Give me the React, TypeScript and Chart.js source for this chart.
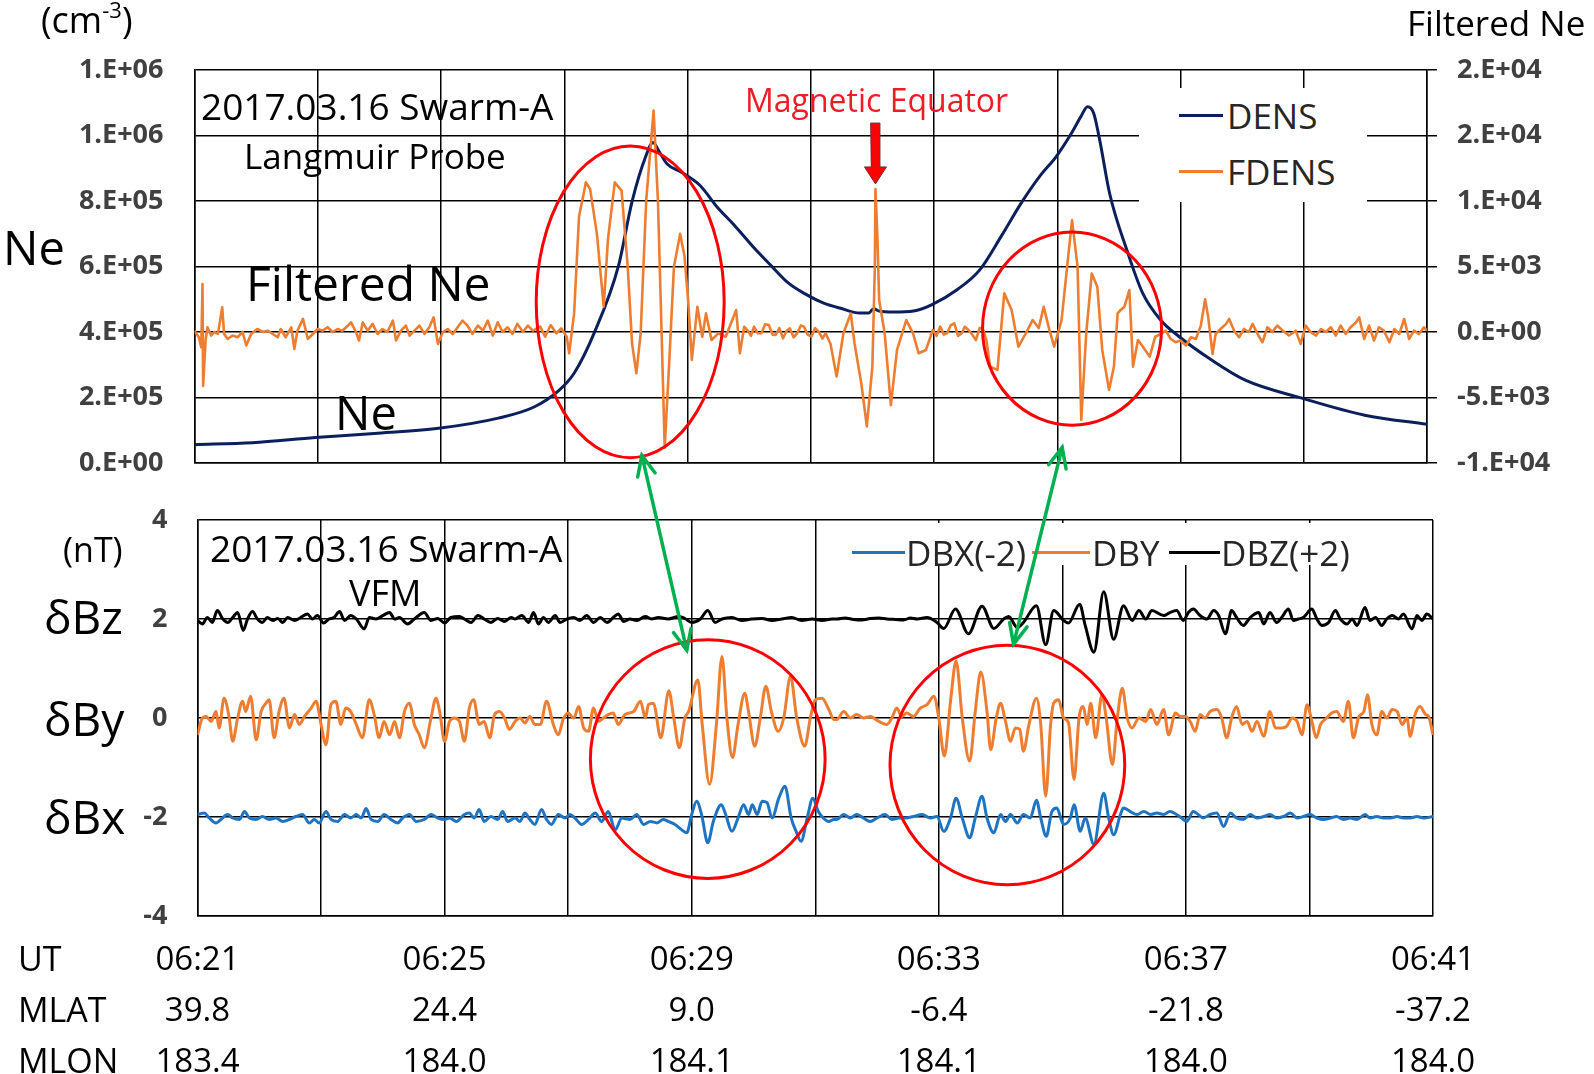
import React, { useEffect, useRef } from 'react';
import { Chart, registerables } from 'chart.js';
Chart.register(...registerables);

// ---------- DATA (time in minutes after 06:21 UT) ----------
const densT = [0, 0.94, 1.96, 2.92, 3.96, 4.93, 5.51, 5.91, 6.16, 6.49, 6.88, 7.10, 7.32, 7.44, 7.54, 7.67, 7.90, 8.20, 8.48, 8.76, 9.06, 9.36, 9.64, 9.93, 10.21, 10.51, 10.79, 10.94, 11.02, 11.11, 11.34, 11.67, 11.96, 12.38, 12.74, 13.09, 13.43, 13.73, 13.98, 14.24, 14.39, 14.49, 14.59, 14.69, 14.85, 15.13, 15.39, 15.68, 15.97, 16.50, 17.06, 17.97, 18.99, 20.0];
const densV = [56000, 62000, 78000, 90000, 106000, 137000, 171000, 221000, 274000, 399000, 602000, 798000, 935000, 979000, 951000, 913000, 888000, 848000, 782000, 726000, 661000, 602000, 549000, 514000, 488000, 471000, 458000, 458000, 471000, 464000, 461000, 464000, 483000, 530000, 589000, 692000, 798000, 879000, 935000, 1010000, 1060000, 1088000, 1069000, 985000, 823000, 650000, 517000, 436000, 387000, 315000, 252000, 198000, 146000, 118000];

const fdensT = [
  0.00, 0.07, 0.11, 0.13, 0.14, 0.18, 0.21, 0.27, 0.32, 0.38, 0.45, 0.48, 0.54, 0.62, 0.70, 0.78, 0.84, 0.92, 1.02, 1.11, 1.19, 1.27, 1.35, 1.40, 1.48, 1.57, 1.62, 1.67, 1.76, 1.84, 1.92, 2.00, 2.08, 2.16, 2.24, 2.32, 2.40, 2.49, 2.54, 2.62, 2.67, 2.73, 2.81, 2.89, 2.97, 3.05, 3.13, 3.22, 3.27, 3.35, 3.43, 3.49, 3.57, 3.65, 3.73, 3.81, 3.88, 3.95, 4.03, 4.11, 4.19, 4.27, 4.35, 4.43, 4.51, 4.60, 4.68, 4.76, 4.84, 4.92, 5.00, 5.08, 5.16, 5.24, 5.33, 5.41, 5.49,
  5.61, 5.69, 5.78, 5.87, 5.95, 6.04, 6.08, 6.16, 6.24, 6.30, 6.35, 6.42, 6.53, 6.64, 6.71, 6.82, 6.93, 7.03, 7.10, 7.17, 7.24, 7.33, 7.45, 7.52, 7.58, 7.63, 7.70, 7.78, 7.88, 7.95, 8.01, 8.07, 8.16, 8.24, 8.30, 8.39, 8.50, 8.62, 8.79, 8.85, 8.92, 8.97, 9.03, 9.08, 9.14, 9.20, 9.26, 9.32, 9.38, 9.43, 9.49, 9.55, 9.61, 9.66, 9.72, 9.78, 9.84, 9.89, 9.95, 10.01, 10.07, 10.13, 10.19, 10.24, 10.32, 10.42, 10.53, 10.65, 10.71, 10.82, 10.91, 11.00, 11.04, 11.05, 11.08, 11.11, 11.20, 11.30, 11.40, 11.55, 11.66, 11.75, 11.87, 11.98, 12.04, 12.10, 12.16, 12.21, 12.27, 12.33, 12.39, 12.45, 12.50, 12.56, 12.62, 12.68, 12.74, 12.79, 12.85, 12.91, 13.03, 13.14, 13.26, 13.37, 13.49, 13.60, 13.70, 13.78, 13.87, 13.95, 14.07, 14.16, 14.24, 14.33, 14.39, 14.47, 14.56,
  14.65, 14.73, 14.84, 14.92, 14.98, 15.03, 15.09, 15.17, 15.23, 15.31, 15.39, 15.50, 15.59,
  15.68, 15.76, 15.84, 15.92, 16.00, 16.09, 16.17, 16.25, 16.33, 16.40, 16.45, 16.52, 16.57, 16.65, 16.74, 16.79, 16.87, 16.95, 17.03, 17.11, 17.17, 17.25, 17.33, 17.41, 17.49, 17.57, 17.66, 17.76, 17.87, 17.95, 18.03, 18.11, 18.20, 18.28, 18.36, 18.44, 18.52, 18.60, 18.68, 18.76, 18.85, 18.90, 18.98, 19.06, 19.14, 19.22, 19.30, 19.39, 19.47, 19.55, 19.63, 19.71, 19.79, 19.87, 19.95, 20.00,
];
const fdensV = [
  100, -400, -1170, 3660, -4110, -650, 360, -270, 0, -150, 1880, -150, -530, -270, -400, 0, -1030, -150, 230, 0, 100, -150, -400, 230, -400, 360, -1300, 100, 1000, -530, -150, 230, 100, 360, 0, 230, 100, 490, 740, 0, -650, 740, 100, 620, -150, 230, 0, 870, -650, 100, 490, -270, 100, 490, -150, 360, 1120, -910, 0, 230, -150, 360, 870, 490, -150, 490, 100, 870, -270, 740, 0, 360, -150, 620, 0, 490, 100,
  410, -360, 530, -100, 280, -360, -1620, 1420, 8830, 10200, 11420, 10910, 7490, 1930, 7110, 11420, 10790, 4970, -860, -3150, -100, 10050, 16900, 10050, -100, -8830, -2640, 4970, 7490, 5840, 2440, -2130, 1930, -360, 1420, -610, -100, -360, 1680, -1620, 400, 150, -300, 410, -100, -100, 600, 530, -200, -230, 300, -480, 100, 280, -400, -100, 500, 410, -200, -360, 300, 30, -500, -100, -900, -3400, -100, 1420, -860, -3910, -7210, -2640, 4970, 10910, 7490, 2440, -100, -5580, -1370, 910, -100, -1620, -1370, 150, -300, 410, -200, -100, 500, 660, -300, -100, 400, 150, -200, -610, 300, 280, -600, -2640, -2890, 2950, 1680, -1120, -100, 910, 300, 1930, 200, -1120, 910, 4970, 8530, 4970, -6720, -100, 4470,
  3450, -1370, -4420, -2640, 1420, 1680, 1930, 3200, -2640, -610, -1120, -1880, -360,
  -150, 100, -530, -780, -650, -1030, -400, -530, 490, 2500, 1120, -1680, -150, 230, 620, 1000, 100, -400, 230, 0, 620, -150, -780, 360, 0, 490, 100, -270, 100, -910, 490, 0, -270, 230, 0, 360, -270, 490, -150, 360, 740, 1120, -530, 490, -650, 360, 100, -780, 230, -150, 990, -530, 100, -150, 360, 100,
];

const dbzT = [
  0, 0.08, 0.16, 0.24, 0.32, 0.41, 0.49, 0.57, 0.65, 0.74, 0.81, 0.89, 0.97, 1.05, 1.13, 1.22, 1.30, 1.38, 1.46, 1.57, 1.67, 1.78, 1.86, 1.94, 2.04, 2.13, 2.21, 2.30, 2.38, 2.48, 2.57, 2.70, 2.78, 2.89, 3.00, 3.11, 3.19, 3.27, 3.40, 3.51, 3.67, 3.78, 3.89, 4.00, 4.10, 4.24, 4.32, 4.43, 4.54, 4.64, 4.75, 4.86, 4.97, 5.08,
  5.14, 5.25, 5.36, 5.44, 5.52, 5.60, 5.68, 5.79, 5.87, 5.98, 6.09, 6.19, 6.30, 6.41, 6.52, 6.63, 6.73, 6.81, 6.90, 7.00, 7.11, 7.25, 7.35, 7.46, 7.62, 7.79, 7.89, 8.00, 8.14, 8.26, 8.38, 8.49, 8.65, 8.81, 8.97, 9.14, 9.30, 9.46, 9.62, 9.78, 9.95, 10.11, 10.27,
  10.35, 10.48, 10.62, 10.75, 10.89, 11.03, 11.16, 11.30, 11.43, 11.54, 11.65, 11.81, 11.97, 12.08, 12.27, 12.48, 12.70, 12.89, 13.05, 13.13, 13.27, 13.37, 13.58, 13.73, 13.86, 14.02, 14.10, 14.28, 14.37, 14.51, 14.67, 14.83, 14.99, 15.13, 15.24, 15.35, 15.45,
  15.64, 15.74, 15.85, 15.96, 16.04, 16.12, 16.23, 16.34, 16.45, 16.53, 16.64, 16.74, 16.82, 16.93, 17.04, 17.18, 17.26, 17.36, 17.47, 17.55, 17.66, 17.74, 17.82, 17.90, 18.04, 18.12, 18.20, 18.31, 18.42, 18.50, 18.61, 18.69, 18.77, 18.90, 18.98, 19.07, 19.17, 19.25, 19.34, 19.44, 19.52, 19.66, 19.74, 19.82, 19.90, 20.00,
];
const dbzV = [
  1.97, 1.90, 2.03, 1.93, 2.17, 2.00, 1.93, 2.03, 2.13, 1.77, 2.00, 2.15, 2.00, 1.93, 2.03, 1.97, 2.01, 1.93, 2.03, 1.97, 2.03, 2.10, 2.00, 2.07, 1.92, 2.00, 2.03, 2.15, 1.97, 2.07, 2.00, 1.80, 2.03, 2.00, 2.07, 2.13, 2.00, 2.03, 1.90, 2.00, 2.13, 1.97, 2.01, 1.92, 2.03, 2.05, 2.00, 1.93, 2.07, 2.00, 1.93, 2.01, 1.95, 2.03,
  2.00, 2.07, 1.93, 2.13, 1.90, 2.03, 1.93, 2.07, 1.93, 2.00, 2.03, 1.97, 2.07, 1.93, 2.03, 1.93, 2.03, 2.10, 1.95, 2.00, 1.97, 2.05, 2.00, 2.03, 2.00, 2.05, 2.01, 1.93, 2.00, 2.17, 1.93, 2.00, 2.03, 1.97, 2.00, 2.01, 1.97, 2.00, 2.03, 1.97, 2.00, 1.97, 2.00,
  2.00, 2.02, 1.99, 1.98, 2.01, 2.02, 2.00, 1.99, 1.98, 2.02, 2.00, 2.03, 1.93, 1.81, 2.20, 1.70, 2.26, 1.81, 2.00, 2.05, 1.83, 1.93, 2.27, 1.48, 2.17, 1.97, 1.92, 2.30, 1.87, 1.33, 2.55, 1.59, 2.27, 1.97, 2.17, 2.00, 2.17,
  2.07, 2.13, 2.17, 1.97, 2.13, 2.20, 2.07, 2.00, 2.17, 2.07, 1.70, 2.17, 2.03, 1.87, 2.03, 2.13, 1.90, 2.13, 1.93, 2.03, 2.20, 1.97, 2.00, 2.03, 2.20, 2.00, 1.87, 1.93, 2.17, 2.00, 1.90, 2.00, 1.87, 2.23, 1.97, 2.03, 1.87, 2.00, 2.07, 2.00, 2.10, 1.80, 2.07, 1.97, 2.10, 2.00,
];

const dbyT = [
  0, 0.08, 0.14, 0.22, 0.30, 0.35, 0.43, 0.51, 0.57, 0.65, 0.73, 0.78, 0.86, 0.95, 1.03, 1.11, 1.16, 1.24, 1.32, 1.40, 1.49, 1.57, 1.65, 1.73, 1.84, 1.92, 2.00, 2.08, 2.16, 2.24, 2.32, 2.40, 2.48, 2.57, 2.67, 2.78, 2.86, 2.94, 3.02, 3.11, 3.19, 3.27, 3.35, 3.43, 3.51, 3.59, 3.67, 3.78, 3.86, 3.92, 4.00, 4.08, 4.16, 4.24, 4.32, 4.40, 4.47, 4.56, 4.64, 4.73, 4.81, 4.89, 4.97, 5.05,
  5.14, 5.22, 5.30, 5.38, 5.46, 5.55, 5.65, 5.76, 5.84, 5.92, 6.00, 6.09, 6.17, 6.25, 6.33, 6.41, 6.49, 6.57, 6.65, 6.73, 6.81, 6.92, 7.06, 7.17, 7.25, 7.30, 7.38, 7.50, 7.63, 7.71, 7.80, 7.89, 7.95, 8.10, 8.17, 8.29, 8.40, 8.49, 8.57, 8.66, 8.75, 8.86, 8.92, 9.02, 9.11, 9.20, 9.29, 9.40, 9.49, 9.60, 9.70, 9.83, 9.92, 10.00, 10.11, 10.22, 10.30,
  10.35, 10.46, 10.57, 10.67, 10.78, 10.89, 11.03, 11.16, 11.24, 11.32, 11.40, 11.48, 11.59, 11.70, 11.81, 11.92, 12.00, 12.09, 12.19, 12.28, 12.38, 12.50, 12.59, 12.68, 12.78, 12.84, 12.93, 13.00, 13.08, 13.16, 13.24, 13.31, 13.37, 13.46, 13.58, 13.65, 13.73, 13.81, 13.86, 13.94, 14.02, 14.10, 14.19, 14.27, 14.34, 14.40, 14.46, 14.54, 14.64, 14.71, 14.81, 14.89, 14.97, 15.05, 15.13, 15.24, 15.35, 15.43,
  15.53, 15.64, 15.72, 15.83, 15.91, 15.99, 16.07, 16.15, 16.23, 16.31, 16.39, 16.50, 16.58, 16.66, 16.74, 16.82, 16.91, 16.99, 17.07, 17.15, 17.26, 17.36, 17.45, 17.55, 17.63, 17.72, 17.80, 17.88, 17.96, 18.04, 18.11, 18.18, 18.28, 18.36, 18.44, 18.55, 18.63, 18.71, 18.80, 18.88, 18.94, 19.01, 19.09, 19.17, 19.25, 19.34, 19.42, 19.50, 19.58, 19.63, 19.71, 19.79, 19.88, 19.93, 20.00,
];
const dbyV = [
  -0.34, 0.00, 0.03, -0.07, 0.13, -0.20, 0.40, 0.03, -0.47, 0.00, 0.34, 0.13, 0.44, -0.44, 0.13, 0.30, 0.37, -0.40, 0.13, 0.40, -0.20, 0.07, -0.13, 0.03, 0.20, 0.34, -0.13, -0.54, 0.27, 0.34, -0.13, 0.20, 0.13, -0.13, -0.40, 0.37, 0.07, -0.40, -0.07, -0.34, -0.07, -0.40, 0.13, 0.30, -0.13, -0.34, -0.60, 0.00, 0.40, 0.13, -0.47, -0.07, 0.00, -0.07, -0.47, 0.20, 0.37, -0.13, -0.07, -0.40, 0.07, 0.13, 0.00, -0.23,
  -0.07, 0.00, -0.10, 0.03, -0.13, -0.13, 0.34, -0.13, -0.34, -0.03, 0.10, 0.00, 0.23, -0.20, -0.27, 0.20, -0.07, 0.00, 0.07, 0.10, -0.13, 0.07, 0.13, 0.34, 0.00, 0.27, 0.30, -0.40, 0.55, 0.00, -0.60, 0.00, 0.13, 0.77, -0.13, -1.34, -0.13, 1.24, 0.00, -0.80, -0.13, 0.50, 0.13, -0.57, 0.00, 0.64, 0.13, -0.27, 0.00, 0.84, 0.00, -0.57, 0.00, 0.37, 0.40, 0.17, -0.03,
  -0.03, 0.13, 0.00, 0.07, 0.00, 0.03, -0.07, -0.13, 0.00, 0.20, 0.03, 0.10, 0.03, 0.20, 0.27, 0.44, 0.00, -0.77, 0.34, 1.15, 0.00, -0.87, 0.13, 0.93, 0.13, -0.64, 0.00, 0.30, -0.07, -0.47, -0.20, -0.23, -0.67, -0.13, 0.40, -0.13, -1.58, -0.13, 0.30, 0.37, 0.00, -0.10, -1.24, 0.00, 0.23, -0.13, 0.30, -0.40, 0.47, 0.00, -0.94, 0.00, 0.60, 0.00, -0.20, 0.00, -0.07, 0.17,
  -0.13, 0.17, -0.34, 0.10, 0.03, 0.03, -0.07, -0.27, 0.07, 0.00, 0.13, 0.17, 0.00, -0.40, 0.00, 0.23, -0.13, -0.07, -0.27, -0.07, -0.37, 0.13, -0.20, -0.20, -0.17, 0.00, -0.07, -0.34, 0.27, -0.07, -0.40, -0.13, 0.00, 0.10, 0.13, -0.07, 0.34, -0.40, 0.03, 0.13, 0.47, -0.13, -0.34, 0.13, 0.00, 0.17, 0.13, -0.13, 0.00, -0.37, 0.07, 0.23, 0.07, 0.03, -0.34,
];

const dbxT = [
  0, 0.11, 0.19, 0.30, 0.38, 0.49, 0.57, 0.68, 0.76, 0.84, 0.95, 1.05, 1.16, 1.27, 1.38, 1.49, 1.59, 1.70, 1.81, 1.89, 1.97, 2.08, 2.16, 2.27, 2.38, 2.48, 2.57, 2.65, 2.73, 2.81, 2.92, 3.02, 3.13, 3.24, 3.32, 3.43, 3.54, 3.67, 3.78, 3.89, 4.00, 4.08, 4.19, 4.32, 4.40, 4.48, 4.56, 4.64, 4.75, 4.86, 4.94, 5.02,
  5.14, 5.22, 5.30, 5.38, 5.46, 5.57, 5.65, 5.73, 5.84, 5.95, 6.03, 6.11, 6.22, 6.33, 6.44, 6.54, 6.65, 6.76, 6.87, 7.00, 7.11, 7.22, 7.33, 7.44, 7.54, 7.62, 7.73, 7.84, 7.92, 8.00, 8.08, 8.16, 8.26, 8.35, 8.48, 8.55, 8.65, 8.75, 8.84, 8.92, 8.98, 9.06, 9.14, 9.22, 9.30, 9.41, 9.51, 9.61, 9.69, 9.77, 9.87, 9.96, 10.05, 10.13, 10.22, 10.30,
  10.35, 10.46, 10.57, 10.67, 10.78, 10.89, 11.00, 11.13, 11.24, 11.35, 11.46, 11.59, 11.73, 11.86, 11.97, 12.08, 12.19, 12.28, 12.38, 12.50, 12.59, 12.70, 12.78, 12.89, 13.00, 13.08, 13.16, 13.27, 13.37, 13.48, 13.58, 13.65, 13.74, 13.83, 13.91, 14.02, 14.13, 14.19, 14.29, 14.37, 14.51, 14.67, 14.75, 14.83, 14.94, 14.99, 15.10, 15.21, 15.32, 15.43,
  15.53, 15.64, 15.74, 15.85, 15.93, 16.01, 16.12, 16.20, 16.28, 16.39, 16.50, 16.61, 16.72, 16.82, 16.93, 17.04, 17.15, 17.26, 17.36, 17.47, 17.58, 17.69, 17.80, 17.90, 18.01, 18.12, 18.23, 18.34, 18.44, 18.55, 18.66, 18.77, 18.90, 18.98, 19.09, 19.20, 19.31, 19.42, 19.52, 19.63, 19.74, 19.85, 20.00,
];
const dbxV = [
  -1.95, -1.92, -2.02, -2.12, -2.05, -1.95, -2.02, -2.05, -1.89, -2.02, -2.05, -1.99, -2.05, -2.02, -2.09, -2.05, -1.99, -1.95, -2.12, -2.05, -2.12, -1.89, -2.05, -2.09, -1.95, -2.02, -1.95, -2.02, -1.83, -2.05, -2.09, -1.95, -2.05, -2.12, -2.02, -1.95, -2.09, -2.05, -1.95, -2.02, -2.05, -2.02, -2.09, -1.95, -1.92, -2.02, -1.85, -2.09, -1.99, -2.05, -1.89, -2.09,
  -2.02, -2.09, -1.92, -2.05, -2.15, -1.85, -2.05, -2.15, -1.95, -2.02, -1.95, -2.02, -2.15, -2.05, -1.92, -2.09, -1.89, -2.26, -2.02, -2.05, -1.95, -2.15, -2.09, -2.12, -2.05, -2.09, -2.15, -2.26, -2.32, -1.95, -1.68, -1.95, -2.52, -2.09, -1.75, -1.95, -2.29, -2.02, -1.75, -1.95, -1.75, -1.95, -1.68, -1.71, -2.02, -1.62, -1.38, -2.02, -2.29, -2.49, -2.02, -1.62, -1.89, -2.02, -2.09, -2.05,
  -2.05, -1.95, -2.02, -1.95, -2.02, -2.09, -2.02, -1.95, -2.05, -2.02, -2.02, -1.99, -1.95, -2.02, -1.99, -2.29, -2.02, -1.62, -2.02, -2.42, -2.02, -1.58, -2.02, -2.32, -1.95, -2.09, -1.95, -2.12, -1.95, -2.02, -1.66, -2.02, -2.39, -1.89, -1.82, -2.15, -2.02, -1.75, -2.29, -2.02, -2.55, -1.52, -2.02, -2.36, -1.95, -1.82, -1.89, -1.95, -1.89, -1.95,
  -1.92, -1.95, -1.89, -1.95, -2.02, -2.09, -1.89, -1.95, -2.02, -1.95, -1.92, -2.19, -1.92, -2.02, -2.05, -1.95, -2.02, -1.99, -1.95, -2.02, -1.99, -1.92, -2.02, -1.99, -1.95, -2.02, -2.05, -2.02, -1.99, -2.05, -2.02, -2.05, -1.95, -2.02, -1.99, -2.02, -2.02, -1.99, -2.02, -2.02, -1.99, -2.02, -1.99,
];

// x-axis label rows (every 4 minutes)
const utLabels = ['06:21', '06:25', '06:29', '06:33', '06:37', '06:41'];
const mlatLabels = ['39.8', '24.4', '9.0', '-6.4', '-21.8', '-37.2'];
const mlonLabels = ['183.4', '184.0', '184.1', '184.1', '184.0', '184.0'];

// annotations in data units
const ellipses = [
  { panel: 'top', t: 7.07, v: 2300, rt: 1.525, rv: 11900 },
  { panel: 'top', t: 14.24, v: 260, rt: 1.452, rv: 7370 },
  { panel: 'bottom', t: 8.26, v: -0.83, rt: 1.9, rv: 2.41 },
  { panel: 'bottom', t: 13.11, v: -0.95, rt: 1.9, rv: 2.42 },
];
const arrows = [
  { t1: 7.26, v1: -9420, t2: 7.92, v2: 1.37 },
  { t1: 14.08, v1: -8810, t2: 13.21, v2: 1.49 },
];
const equatorArrow = { t: 11.05, tail: 15950, headBase: 12600, tip: 11300 };

// ---------- layout helpers ----------
const FONT = '"Open Sans", sans-serif';
const W = 1594;
const TOP_H = 513;          // top canvas height; plot bottom at 463
const TOP_XH = 50;          // x axis box height for the top panel
const BOT_Y = 470;          // bottom canvas page offset
const BOT_PAD = 50;         // plot top at 520 page
const BOT_H = 1074 - BOT_Y;
const BOT_XH = BOT_H - (916 - BOT_Y);

function pts(ts: number[], vs: number[]) {
  const n = Math.min(ts.length, vs.length);
  const out: { x: number; y: number }[] = [];
  for (let i = 0; i < n; i++) out.push({ x: ts[i], y: vs[i] });
  return out;
}

function sci(v: number): string {
  if (Math.abs(v) < 1e-9) return '0.E+00';
  const sign = v < 0 ? '-' : '';
  const a = Math.abs(v);
  let e = Math.floor(Math.log10(a) + 1e-9);
  let m = Math.round(a / Math.pow(10, e) + 1e-9);
  if (m >= 10) { m = 1; e += 1; }
  return sign + m + '.E' + (e >= 0 ? '+' : '-') + String(Math.abs(e)).padStart(2, '0');
}

const Txt = ({ x, y, size, color = '#000', weight = 400, children }: any) => (
  <div style={{ position: 'absolute', left: x, top: y, transform: 'translateY(-50%)', fontFamily: FONT, fontSize: size, lineHeight: 1, whiteSpace: 'nowrap', color, fontWeight: weight }}>{children}</div>
);
const LLine = ({ x, y, w, color }: any) => (
  <div style={{ position: 'absolute', left: x, top: y - 1.5, width: w, height: 3, background: color }} />
);

export default function App() {
  const topRef = useRef<HTMLCanvasElement>(null);
  const botRef = useRef<HTMLCanvasElement>(null);
  const ovRef = useRef<HTMLCanvasElement>(null);

  useEffect(() => {
    const gridC = { color: '#000', lineWidth: 1.5 };
    const tickFont = { family: FONT, size: 27, weight: 'bold' };
    const tickColor = '#404040';

    const top = new Chart(topRef.current as HTMLCanvasElement, {
      type: 'line',
      data: {
        datasets: [
          { label: 'FDENS', data: pts(fdensT, fdensV), yAxisID: 'y1', borderColor: '#ED7D31', borderWidth: 2.6, pointRadius: 0, tension: 0, borderJoinStyle: 'round' },
          { label: 'DENS', data: pts(densT, densV), yAxisID: 'y', borderColor: '#0B1F5C', borderWidth: 3, pointRadius: 0, cubicInterpolationMode: 'monotone' },
        ],
      },
      options: {
        responsive: false, animation: false, events: [],
        layout: { padding: { top: 70, left: 0, right: 0, bottom: 0 } },
        plugins: { legend: { display: false }, tooltip: { enabled: false } },
        scales: {
          x: { type: 'linear', min: 0, max: 20, ticks: { stepSize: 2, display: false }, grid: { ...gridC, drawTicks: false }, border: { color: '#000', width: 1.5 }, afterFit: (s: any) => { s.height = TOP_XH; } },
          y: { type: 'linear', position: 'left', min: 0, max: 1.2e6, ticks: { stepSize: 2e5, callback: (v: any) => sci(Number(v)), font: tickFont, color: tickColor, padding: 31 }, grid: { ...gridC, drawTicks: false }, border: { color: '#000', width: 1.5 }, afterFit: (s: any) => { s.width = 194.5; } },
          y1: { type: 'linear', position: 'right', min: -1e4, max: 2e4, ticks: { stepSize: 5000, callback: (v: any) => sci(Number(v)), font: tickFont, color: tickColor, padding: 20 }, grid: { drawOnChartArea: false, color: '#000', lineWidth: 1.5, drawTicks: true, tickLength: 10 }, border: { color: '#000', width: 1.5 }, afterFit: (s: any) => { s.width = W - 1427; } },
        },
      } as any,
    } as any);

    const bot = new Chart(botRef.current as HTMLCanvasElement, {
      type: 'line',
      data: {
        datasets: [
          { label: 'DBZ(+2)', data: pts(dbzT, dbzV), borderColor: '#000000', borderWidth: 3, pointRadius: 0, cubicInterpolationMode: 'monotone' },
          { label: 'DBY', data: pts(dbyT, dbyV), borderColor: '#ED7D31', borderWidth: 3, pointRadius: 0, cubicInterpolationMode: 'monotone' },
          { label: 'DBX(-2)', data: pts(dbxT, dbxV), borderColor: '#1F74C2', borderWidth: 3, pointRadius: 0, cubicInterpolationMode: 'monotone' },
        ],
      },
      options: {
        responsive: false, animation: false, events: [],
        layout: { padding: { top: BOT_PAD, left: 0, right: W - 1433, bottom: 0 } },
        plugins: { legend: { display: false }, tooltip: { enabled: false } },
        scales: {
          x: {
            type: 'linear', min: 0, max: 20,
            ticks: {
              stepSize: 2, autoSkip: false, maxRotation: 0, minRotation: 0, padding: 19, color: '#000',
              font: { family: FONT, size: 33, lineHeight: 1.545 },
              callback: (v: any) => {
                const n = Number(v);
                if (Math.abs(n / 4 - Math.round(n / 4)) > 1e-6) return '';
                const i = Math.round(n / 4);
                return [utLabels[i], mlatLabels[i], mlonLabels[i]];
              },
            },
            grid: { ...gridC, drawTicks: false }, border: { color: '#000', width: 1.5 },
            afterFit: (s: any) => { s.height = BOT_XH; },
          },
          y: { type: 'linear', position: 'left', min: -4, max: 4, ticks: { stepSize: 2, font: tickFont, color: tickColor, padding: 30 }, grid: { ...gridC, drawTicks: false }, border: { color: '#000', width: 1.5 }, afterFit: (s: any) => { s.width = 197.5; } },
        },
      } as any,
    } as any);

    // overlay annotations
    const ov = ovRef.current as HTMLCanvasElement;
    const ctx = ov.getContext('2d') as CanvasRenderingContext2D;
    ctx.clearRect(0, 0, ov.width, ov.height);
    const P = (panel: string, t: number, v: number) => {
      if (panel === 'top') return { x: top.scales.x.getPixelForValue(t), y: top.scales.y1.getPixelForValue(v) };
      return { x: bot.scales.x.getPixelForValue(t), y: bot.scales.y.getPixelForValue(v) + BOT_Y };
    };
    ctx.strokeStyle = '#FF0000';
    ctx.lineWidth = 3;
    for (const e of ellipses) {
      const c = P(e.panel, e.t, e.v);
      const r1 = P(e.panel, e.t + e.rt, e.v + e.rv);
      ctx.beginPath();
      ctx.ellipse(c.x, c.y, Math.abs(r1.x - c.x), Math.abs(r1.y - c.y), 0, 0, Math.PI * 2);
      ctx.stroke();
    }
    ctx.strokeStyle = '#00B050';
    ctx.lineWidth = 3.5;
    ctx.lineCap = 'round';
    const head = (tip: any, from: any) => {
      const ang = Math.atan2(tip.y - from.y, tip.x - from.x);
      const L = 22, a = 0.42;
      ctx.beginPath();
      ctx.moveTo(tip.x - L * Math.cos(ang - a), tip.y - L * Math.sin(ang - a));
      ctx.lineTo(tip.x, tip.y);
      ctx.lineTo(tip.x - L * Math.cos(ang + a), tip.y - L * Math.sin(ang + a));
      ctx.stroke();
    };
    for (const a of arrows) {
      const p1 = P('top', a.t1, a.v1);
      const p2 = P('bottom', a.t2, a.v2);
      ctx.beginPath(); ctx.moveTo(p1.x, p1.y); ctx.lineTo(p2.x, p2.y); ctx.stroke();
      head(p1, p2); head(p2, p1);
    }
    // magnetic equator arrow
    const ex = top.scales.x.getPixelForValue(equatorArrow.t);
    const yTail = top.scales.y1.getPixelForValue(equatorArrow.tail);
    const yBase = top.scales.y1.getPixelForValue(equatorArrow.headBase);
    const yTip = top.scales.y1.getPixelForValue(equatorArrow.tip);
    ctx.beginPath();
    ctx.moveTo(ex - 4.5, yTail); ctx.lineTo(ex + 4.5, yTail); ctx.lineTo(ex + 4.5, yBase);
    ctx.lineTo(ex + 11, yBase); ctx.lineTo(ex, yTip); ctx.lineTo(ex - 11, yBase);
    ctx.lineTo(ex - 4.5, yBase); ctx.closePath();
    ctx.fillStyle = '#FF0000'; ctx.fill();
    ctx.strokeStyle = '#7A2A3A'; ctx.lineWidth = 1; ctx.stroke();

    return () => { top.destroy(); bot.destroy(); };
  }, []);

  return (
    <div style={{ position: 'fixed', left: 0, top: 0, width: W, height: 1074, background: '#fff', overflow: 'hidden' }}>
      <canvas ref={topRef} width={W} height={TOP_H} style={{ position: 'absolute', left: 0, top: 0 }} />
      <canvas ref={botRef} width={W} height={BOT_H} style={{ position: 'absolute', left: 0, top: BOT_Y }} />

      {/* top panel texts */}
      <Txt x={41} y={20} size={36}>(cm<span style={{ fontSize: 22, position: 'relative', top: -15 }}>-3</span>)</Txt>
      <Txt x={1407} y={22} size={35}>Filtered Ne</Txt>
      <Txt x={3} y={247} size={47}>Ne</Txt>
      <Txt x={201} y={105} size={37}>2017.03.16 Swarm-A</Txt>
      <Txt x={244} y={155} size={35}>Langmuir Probe</Txt>
      <Txt x={246} y={283} size={48}>Filtered Ne</Txt>
      <Txt x={335} y={412} size={47}>Ne</Txt>
      <Txt x={745} y={100} size={32} color="#EE1C25">Magnetic Equator</Txt>

      {/* top legend */}
      <div style={{ position: 'absolute', left: 1139, top: 88, width: 228, height: 114, background: '#fff' }} />
      <LLine x={1179} y={115} w={44} color="#0B1F5C" />
      <Txt x={1227} y={115} size={35} color="#262626">DENS</Txt>
      <LLine x={1179} y={171} w={44} color="#ED7D31" />
      <Txt x={1227} y={171} size={35} color="#262626">FDENS</Txt>

      {/* bottom panel texts */}
      <Txt x={63} y={549} size={34}>(nT)</Txt>
      <Txt x={44} y={616} size={46}>δBz</Txt>
      <Txt x={44} y={718} size={46}>δBy</Txt>
      <Txt x={44} y={816} size={46}>δBx</Txt>
      <Txt x={210} y={547} size={37}>2017.03.16 Swarm-A</Txt>
      <Txt x={349} y={593} size={36}>VFM</Txt>

      {/* bottom legend */}
      <div style={{ position: 'absolute', left: 845, top: 523, width: 517, height: 42, background: '#fff' }} />
      <LLine x={852} y={552} w={53} color="#1F74C2" />
      <Txt x={906} y={552} size={35} color="#262626">DBX(-2)</Txt>
      <LLine x={1032} y={552} w={58} color="#ED7D31" />
      <Txt x={1092} y={552} size={35} color="#262626">DBY</Txt>
      <LLine x={1169} y={552} w={51} color="#000" />
      <Txt x={1221} y={552} size={35} color="#262626">DBZ(+2)</Txt>

      {/* x-axis row headers */}
      <Txt x={18} y={958} size={34}>UT</Txt>
      <Txt x={18} y={1009} size={34}>MLAT</Txt>
      <Txt x={18} y={1060} size={34}>MLON</Txt>

      <canvas ref={ovRef} width={W} height={1074} style={{ position: 'absolute', left: 0, top: 0, pointerEvents: 'none' }} />
    </div>
  );
}
